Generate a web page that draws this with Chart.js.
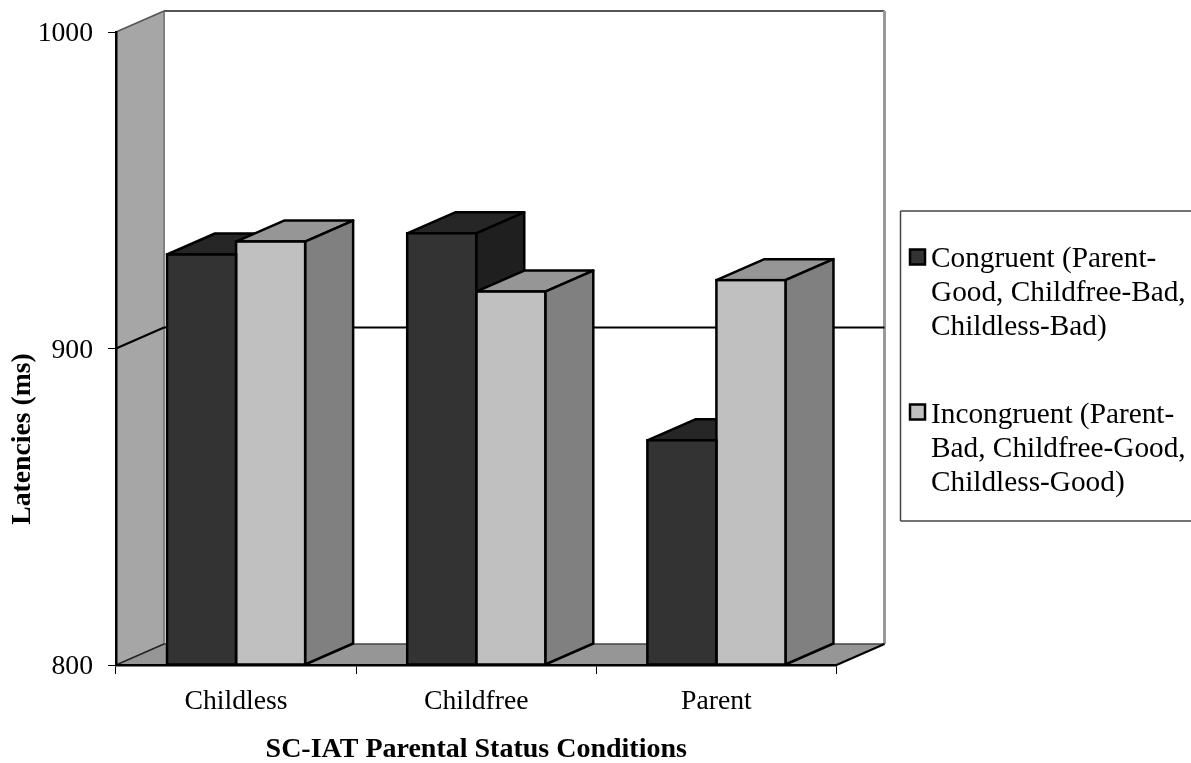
<!DOCTYPE html>
<html>
<head>
<meta charset="utf-8">
<style>
  html, body { margin: 0; padding: 0; background: #fff; }
  #wrap { width: 1191px; height: 763px; position: relative; }
</style>
<script src="https://cdn.jsdelivr.net/npm/chart.js@4"></script>
</head>
<body>
<div id="wrap"><canvas id="myChart"></canvas></div>
<script>
const categories = ['Childless', 'Childfree', 'Parent'];
const congruent = [929.7, 936.4, 871];
const incongruent = [933.8, 918, 921.6];
const legendCongruent = ['Congruent (Parent-', 'Good, Childfree-Bad,', 'Childless-Bad)'];
const legendIncongruent = ['Incongruent (Parent-', 'Bad, Childfree-Good,', 'Childless-Good)'];
const yTicks = [800, 900, 1000];

const FONT = '"Liberation Serif", "Times New Roman", serif';
// depth of the fake 3d box, in pixels
const DX = 48;
const DY = -21;

function poly(ctx, pts, fill, stroke, lw) {
    ctx.beginPath();
    ctx.moveTo(pts[0][0], pts[0][1]);
    for (let i = 1; i < pts.length; i++) ctx.lineTo(pts[i][0], pts[i][1]);
    ctx.closePath();
    if (fill) { ctx.fillStyle = fill; ctx.fill(); }
    if (stroke) { ctx.strokeStyle = stroke; ctx.lineWidth = lw; ctx.stroke(); }
}

function line(ctx, x1, y1, x2, y2, color, lw) {
    ctx.beginPath();
    ctx.moveTo(x1, y1);
    ctx.lineTo(x2, y2);
    ctx.strokeStyle = color;
    ctx.lineWidth = lw;
    ctx.stroke();
}

const wallsPlugin = {
    id: 'walls',
    // walls, floor, back grid lines, then top and side of each bar.
    // the library paints the bar fronts on top of all this
    beforeDatasetsDraw: function (chart) {
        let ctx = chart.ctx;
        let { left, right, top, bottom } = chart.chartArea;
        ctx.save();
        poly(ctx, [[left, top], [left + DX, top + DY], [left + DX, bottom + DY], [left, bottom]], '#a6a6a6');
        poly(ctx, [[left, bottom], [left + DX, bottom + DY], [right + DX, bottom + DY], [right, bottom]], '#969696');
        line(ctx, left + DX, top + DY, left + DX, bottom + DY, '#808080', 2);
        line(ctx, left + DX, top + DY, right + DX, top + DY, '#555555', 2);
        line(ctx, right + DX, top + DY, right + DX, bottom + DY, '#999999', 3);
        line(ctx, left + DX, bottom + DY, right + DX, bottom + DY, '#444444', 1.5);
        line(ctx, left, top, left + DX, top + DY, '#555555', 1.5);
        line(ctx, left, bottom, left + DX, bottom + DY, '#222222', 1.5);
        line(ctx, right, bottom, right + DX, bottom + DY, '#000000', 2);
        let yScale = chart.scales.y;
        yTicks.forEach(function (v) {
            if (v === yTicks[0] || v === yTicks[yTicks.length - 1]) return;
            let y = yScale.getPixelForValue(v);
            line(ctx, left, y, left + DX, y + DY, '#000000', 2);
            line(ctx, left + DX, y + DY, right + DX, y + DY, '#000000', 2);
        });
        ctx.lineJoin = 'round';
        chart.data.datasets.forEach(function (dataset, i) {
            chart.getDatasetMeta(i).data.forEach(function (el) {
                let x0 = el.x - el.width / 2;
                let x1 = el.x + el.width / 2;
                let y = el.y;
                let b = el.base;
                poly(ctx, [[x0, y], [x0 + DX, y + DY], [x1 + DX, y + DY], [x1, y]], dataset.topColor, '#000000', 2.5);
                poly(ctx, [[x1, y], [x1 + DX, y + DY], [x1 + DX, b + DY], [x1, b]], dataset.sideColor, '#000000', 2.5);
            });
        });
        ctx.restore();
    },
    // outline of the fronts, one shared line between neighbouring bars
    afterDatasetsDraw: function (chart) {
        let ctx = chart.ctx;
        ctx.save();
        ctx.strokeStyle = '#000000';
        ctx.lineWidth = 2.5;
        chart.data.datasets.forEach(function (dataset, i) {
            chart.getDatasetMeta(i).data.forEach(function (el) {
                ctx.strokeRect(el.x - el.width / 2, el.y, el.width, el.base - el.y);
            });
        });
        ctx.restore();
    },
    afterDraw: function (chart) {
        let ctx = chart.ctx;
        ctx.save();
        // legend box runs off the right edge like the original
        line(ctx, 1192, 211, 900.5, 211, '#444444', 1.5);
        line(ctx, 900.5, 211, 900.5, 521, '#444444', 1.5);
        line(ctx, 900.5, 521, 1192, 521, '#444444', 1.5);
        ctx.font = '29.3px ' + FONT;
        ctx.textBaseline = 'alphabetic';
        ctx.textAlign = 'left';
        let entries = [[legendCongruent, 267, 249.5], [legendIncongruent, 423, 404.5]];
        entries.forEach(function (entry, i) {
            let ds = chart.data.datasets[i];
            ctx.fillStyle = ds.backgroundColor;
            ctx.fillRect(910, entry[2], 15, 15);
            ctx.strokeStyle = '#000000';
            ctx.lineWidth = 2.5;
            ctx.strokeRect(910, entry[2], 15, 15);
            ctx.fillStyle = '#000000';
            entry[0].forEach(function (txt, k) {
                ctx.fillText(txt, 931, entry[1] + k * 34);
            });
        });
        // y title sits below the axis centre in the original
        ctx.translate(23, 439);
        ctx.rotate(-Math.PI / 2);
        ctx.font = 'bold 27.7px ' + FONT;
        ctx.textAlign = 'center';
        ctx.textBaseline = 'middle';
        ctx.fillText('Latencies (ms)', 0, 0);
        ctx.restore();
    }
};

let data = {
    labels: categories,
    datasets: [
        {
            label: 'Congruent',
            data: congruent,
            base: yTicks[0],
            backgroundColor: '#333333',
            topColor: '#262626',
            sideColor: '#1f1f1f',
            borderWidth: 0
        },
        {
            label: 'Incongruent',
            data: incongruent,
            base: yTicks[0],
            backgroundColor: '#c0c0c0',
            topColor: '#969696',
            sideColor: '#808080',
            borderWidth: 0
        }
    ]
};

let options = {
    responsive: false,
    animation: false,
    layout: { padding: { top: 32, right: 354.5, bottom: 0, left: 0 } },
    datasets: { bar: { categoryPercentage: 0.575, barPercentage: 1 } },
    plugins: { legend: { display: false }, tooltip: { enabled: false } },
    scales: {
        x: {
            afterFit: function (scale) { scale.height = 98; },
            grid: { drawOnChartArea: false, color: '#000000', tickLength: 9, lineWidth: 1 },
            border: { color: '#000000', width: 2.5, z: 1 },
            ticks: { color: '#000000', font: { family: FONT, size: 27.7 }, padding: 11 },
            title: {
                display: true,
                text: 'SC-IAT Parental Status Conditions',
                color: '#000000',
                font: { family: FONT, size: 28, weight: 'bold' },
                padding: { top: 12, bottom: -4 }
            }
        },
        y: {
            min: yTicks[0],
            max: yTicks[yTicks.length - 1],
            afterFit: function (scale) { scale.width = 116; },
            afterBuildTicks: function (scale) { scale.ticks = yTicks.map(function (v) { return { value: v }; }); },
            grid: { drawOnChartArea: false, color: '#000000', tickLength: 8, lineWidth: 1 },
            border: { color: '#000000', width: 2.5, z: 1 },
            ticks: {
                color: '#000000',
                font: { family: FONT, size: 27.7 },
                padding: 15,
                labelOffset: 2,
                callback: function (value) { return String(value); }
            }
        }
    }
};

let canvas = document.getElementById('myChart');
canvas.width = 1191;
canvas.height = 763;
let myChart = new Chart(canvas.getContext('2d'), {
    type: 'bar',
    data: data,
    options: options,
    plugins: [wallsPlugin]
});
</script>
</body>
</html>
